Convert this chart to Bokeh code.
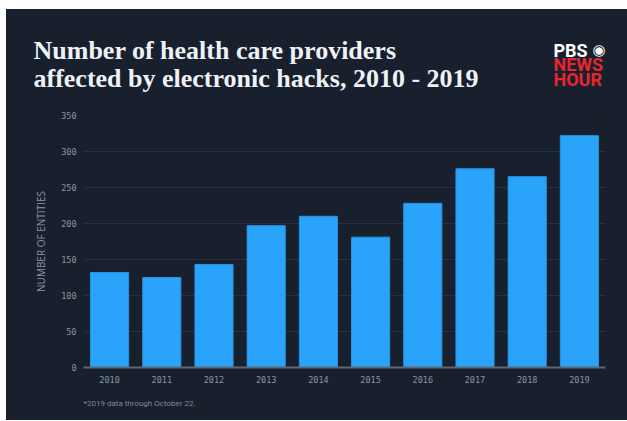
from bokeh.plotting import figure
from bokeh.models import Label, FixedTicker, Range1d, FactorRange, Spacer, Title
from bokeh.layouts import column, row
from bokeh.embed import file_html
from bokeh.resources import INLINE

years = ["2010", "2011", "2012", "2013", "2014", "2015", "2016", "2017", "2018", "2019"]
entities = [132, 125, 143, 197, 210, 181, 228, 276, 265, 322]
y_ticks = [0, 50, 100, 150, 200, 250, 300, 350]
title_lines = ["Number of health care providers", "affected by electronic hacks, 2010 - 2019"]
footnote = "*2019 data through October 22."
y_label = "NUMBER OF ENTITIES"

BG = "#18202d"
BLUE = "#2aa3fa"
GRID = "#263141"
TICK = "#8a95a4"
W = 621
HEAD_H = 98
MAIN_H = 313

# ---- header (title + logo) ----
h = figure(width=W, height=HEAD_H, x_range=Range1d(0, W), y_range=Range1d(0, HEAD_H),
           output_backend="svg", toolbar_location=None, x_axis_type=None, y_axis_type=None,
           min_border=0, background_fill_color=BG, border_fill_color=None,
           styles={"background-color": BG})
h.outline_line_color = None
h.grid.visible = False
h.frame_align = False

def lab(fig, x, y, text, size, color, font, style="normal"):
    fig.add_layout(Label(x=x, y=y, text=text, text_font=font, text_font_size=size,
                         text_font_style=style, text_color=color,
                         text_baseline="alphabetic", text_align="left"))

lab(h, 27, 57, title_lines[0], "26px", "#eef2f7", "Liberation Serif", "bold")
lab(h, 27, 29, title_lines[1], "26px", "#eef2f7", "Liberation Serif", "bold")
lab(h, 547, 57, "PBS", "18px", "#ffffff", "Roboto", "bold")
lab(h, 586, 58, "\u25c9", "15px", "#ffffff", "DejaVu Sans", "normal")
lab(h, 547, 43, "NEWS", "18px", "#e8262d", "Roboto", "bold")
lab(h, 547, 28, "HOUR", "18px", "#e8262d", "Roboto", "bold")

# ---- main chart ----
p = figure(x_range=FactorRange(*years), y_range=Range1d(0, 350),
           width=W, height=MAIN_H, output_backend="svg", toolbar_location=None,
           min_border_left=77, min_border_right=22, min_border_top=8, min_border_bottom=53,
           background_fill_color=BG, border_fill_color=None,
           styles={"background-color": BG})
p.outline_line_color = None
p.frame_align = False

p.vbar(x=years, top=entities, width=0.73, fill_color=BLUE, line_color="#2595e6", line_width=1)

p.xgrid.grid_line_color = None
p.ygrid.grid_line_color = GRID
p.ygrid.grid_line_width = 1

p.xaxis.axis_line_color = "#5d6775"
p.xaxis.axis_line_width = 2
p.xaxis.major_tick_line_color = None
p.xaxis.minor_tick_line_color = None
p.xaxis.major_label_text_font = "DejaVu Sans Mono"
p.xaxis.major_label_text_font_size = "8.5px"
p.xaxis.major_label_text_color = TICK
p.xaxis.major_label_standoff = 2

p.yaxis.ticker = FixedTicker(ticks=y_ticks)
p.yaxis.axis_line_color = None
p.yaxis.major_tick_line_color = None
p.yaxis.minor_tick_line_color = None
p.yaxis.major_label_text_font = "DejaVu Sans Mono"
p.yaxis.major_label_text_font_size = "8.5px"
p.yaxis.major_label_text_color = TICK
p.yaxis.major_label_standoff = 1
p.yaxis.axis_label = y_label
p.yaxis.axis_label_text_font = "Open Sans"
p.yaxis.axis_label_text_font_style = "normal"
p.yaxis.axis_label_text_font_size = "10px"
p.yaxis.axis_label_text_color = TICK
p.yaxis.axis_label_standoff = 10

p.add_layout(Title(text=footnote, align="left", text_font="Roboto", text_font_size="8px",
                   text_font_style="normal", text_color="#7c8795", standoff=23), "below")

panel = column(h, p, styles={"background-color": BG})
layout = column(Spacer(height=9), row(Spacer(width=6), panel))
open("out.html", "w").write(file_html(layout, INLINE))
